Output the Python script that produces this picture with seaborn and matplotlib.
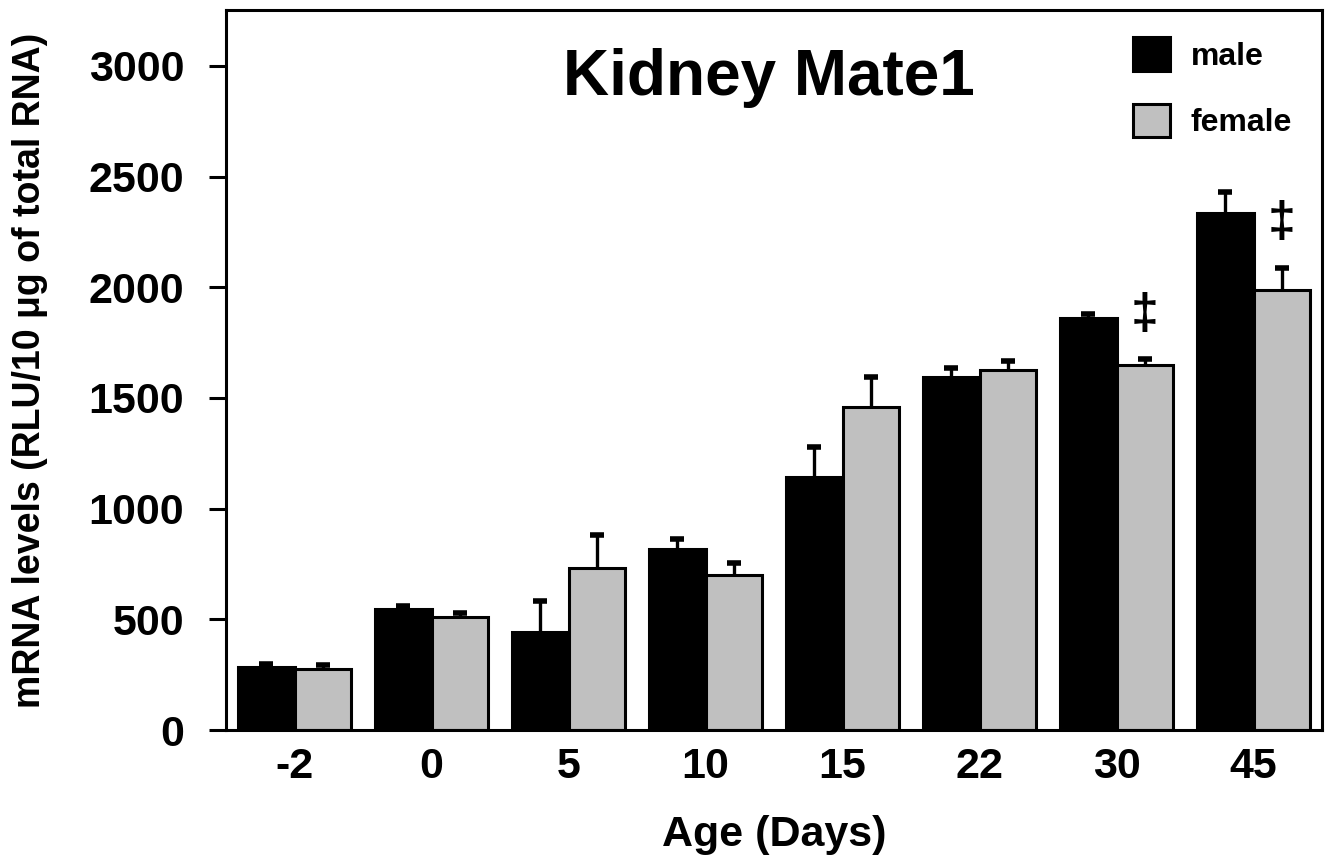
import matplotlib
matplotlib.use("Agg")
import matplotlib.pyplot as plt
import seaborn as sns
import pandas as pd
import numpy as np

# ---- data ----
ages = ["-2", "0", "5", "10", "15", "22", "30", "45"]
sexes = ["male", "female"]
male_vals = [285, 547, 444, 817, 1145, 1594, 1860, 2335]
male_err = [13, 13, 140, 46, 135, 43, 20, 95]
female_vals = [275, 512, 731, 700, 1461, 1627, 1649, 1988]
female_err = [20, 18, 150, 56, 136, 40, 26, 101]
female_marks = ["", "", "", "", "", "", "\u2021", "\u2021"]

df = pd.DataFrame({
    "age": ages * 2,
    "sex": ["male"] * len(ages) + ["female"] * len(ages),
    "value": male_vals + female_vals,
})

sns.set_theme(style="white")
plt.rcParams["font.family"] = ["Liberation Sans", "DejaVu Sans"]
plt.rcParams["font.weight"] = "bold"
for k in ["text.color", "axes.labelcolor", "xtick.color", "ytick.color", "axes.edgecolor"]:
    plt.rcParams[k] = "black"

fig = plt.figure(figsize=(13.31, 8.60), dpi=100)
ax = fig.add_axes([226 / 1331, 1 - 730 / 860, 1096 / 1331, 720 / 860])

sns.barplot(data=df, x="age", y="value", hue="sex", order=ages, hue_order=sexes,
            palette={"male": "#000000", "female": "#C0C0C0"}, edgecolor="black",
            linewidth=2.2, width=0.82, errorbar=None, ax=ax, saturation=1)

errs = {"male": male_err, "female": female_err}
for cont, sex in zip(ax.containers, sexes):
    xs = np.array([b.get_x() + b.get_width() / 2 for b in cont])
    tops = np.array([b.get_height() for b in cont])
    e = np.array(errs[sex])
    ax.vlines(xs, tops, tops + e, colors="black", linewidth=2.4, zorder=0.5)
    ax.plot(xs, tops + e, ls="none", marker="_", markersize=10, mew=4,
            color="black", zorder=3)
    if sex == "female":
        for x, t, ee, m in zip(xs, tops, e, female_marks):
            if m:
                ax.text(x, t + ee + 200, m, ha="center", va="center",
                        fontsize=36, fontweight="bold", color="black")

ax.set_ylim(0, 3253)
ax.set_xlim(-0.5, len(ages) - 0.5)
ax.set_yticks(np.arange(0, 3001, 500))
ax.tick_params(axis="y", which="major", direction="out", length=12, width=2.2,
               labelsize=31, pad=18, left=True, color="black", labelcolor="black")
ax.tick_params(axis="x", length=0, labelsize=31, pad=12, labelcolor="black")
for lab in ax.get_xticklabels() + ax.get_yticklabels():
    lab.set_fontweight("bold")
for sp in ax.spines.values():
    sp.set_visible(True)
    sp.set_color("black")
    sp.set_linewidth(2.2)

ax.set_xlabel("Age (Days)", fontsize=31, fontweight="bold", va="center", color="black")
ax.xaxis.set_label_coords(0.5, (730 - 835) / 720)
ax.set_ylabel("mRNA levels (RLU/10 \u03bcg of total RNA)", fontsize=27,
              fontweight="bold", va="center", color="black")
ax.yaxis.set_label_coords((30 - 226) / 1096, 0.5)

ax.text(0.495, (730 - 95) / 720, "Kidney Mate1", transform=ax.transAxes,
        ha="center", va="baseline", fontsize=46, fontweight="bold", color="black")

handles, labels = ax.get_legend_handles_labels()
if ax.get_legend() is not None:
    ax.get_legend().remove()
leg = ax.legend(handles, labels, loc="upper left",
                bbox_to_anchor=((1133 - 226) / 1096, (730 - 37) / 720),
                frameon=False, fontsize=23, handlelength=1.15, handleheight=1.25,
                handletextpad=0.65, labelspacing=1.0, borderpad=0, borderaxespad=0)
for t in leg.get_texts():
    t.set_fontweight("bold")
    t.set_color("black")

fig.savefig("out.png", dpi=100, facecolor="white")
